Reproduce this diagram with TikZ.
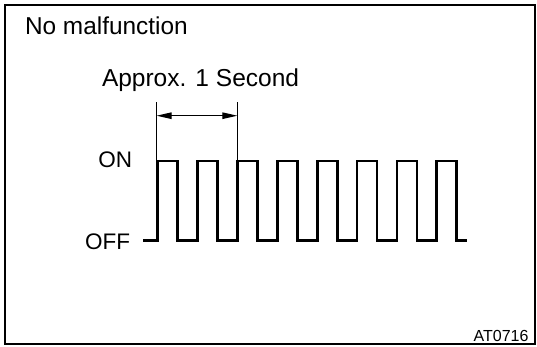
\documentclass[tikz,border=0pt]{standalone}
\usepackage{fontspec}
\setmainfont{Liberation Sans}
\usetikzlibrary{arrows.meta}
\begin{document}
\begin{tikzpicture}[x=1pt,y=1pt,
  lbl/.style={inner sep=0pt,outer sep=0pt},
  wave/.style={line width=2.8pt,line join=miter},
  tick/.style={line width=1.1pt},
  dim/.style={line width=1.1pt,{Triangle[length=15pt,width=6.5pt]}-{Triangle[length=15pt,width=6.5pt]}},
  frame/.style={line width=2pt}]
\useasboundingbox (0,0) rectangle (537,346);
\fill[white] (0,0) rectangle (537,346);
\draw[frame] (5,2) rectangle (535,341);
\node[lbl,anchor=base west,font=\fontsize{24.4}{28}\selectfont] (title) at (25,311) {No malfunction};
\node[lbl,anchor=base west,font=\fontsize{24.5}{28}\selectfont] (approx) at (102,259) {Approx. 1 Second};
\node[lbl,anchor=base east,font=\fontsize{22.5}{26}\selectfont] (on) at (132,179) {ON};
\node[lbl,anchor=base east,font=\fontsize{22.5}{26}\selectfont] (off) at (130,96.5) {OFF};
\node[lbl,anchor=base east,font=\fontsize{16}{19}\selectfont] (code) at (528.5,5) {AT0716};
% waveform
\draw[wave] (143,105.5) -- (157.5,105.5)
  -- (157.5,185) -- (177.5,185) -- (177.5,105.5) -- (197.4,105.5)
  -- (197.4,185) -- (217.4,185) -- (217.4,105.5) -- (237.3,105.5)
  -- (237.3,185) -- (257.3,185) -- (257.3,105.5) -- (277.2,105.5)
  -- (277.2,185) -- (297.2,185) -- (297.2,105.5) -- (317.1,105.5)
  -- (317.1,185) -- (337.1,185) -- (337.1,105.5) -- (357.0,105.5)
  -- (357.0,185) -- (377.0,185) -- (377.0,105.5) -- (396.9,105.5)
  -- (396.9,185) -- (416.9,185) -- (416.9,105.5) -- (436.8,105.5)
  -- (436.8,185) -- (456.8,185) -- (456.8,105.5) -- (467,105.5);
% dimension
\coordinate (t1top) at (156.6,244);
\coordinate (t1bot) at (156.6,185);
\coordinate (t2top) at (237.3,244);
\coordinate (t2bot) at (237.3,185);
\coordinate (a1) at (156.6,230.3);
\coordinate (a2) at (237.3,230.3);
\draw[tick] (t1top) -- (t1bot);
\draw[tick] (t2top) -- (t2bot);
\draw[dim] (a1) -- (a2);
\end{tikzpicture}
\end{document}
